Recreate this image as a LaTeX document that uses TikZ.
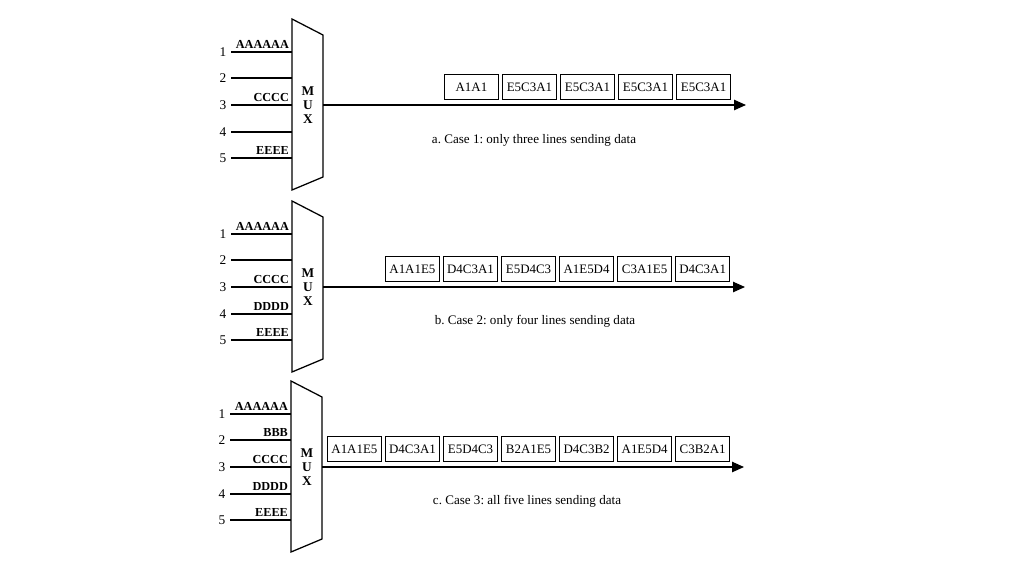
\documentclass[tikz,border=0pt]{standalone}
\usepackage{fontspec}
\setmainfont{Liberation Serif}
\usetikzlibrary{positioning,arrows.meta}

\begin{document}
\frenchspacing
\begin{tikzpicture}[x=0.25mm,y=-0.25mm,
	muxbody/.style={draw,line width=0.9pt,line join=miter},
	muxtext/.style={align=center,font=\fontsize{9.5}{9.8}\selectfont\bfseries},
	linenum/.style={inner sep=3.2pt,font=\fontsize{9.5}{10}\selectfont},
	inline/.style={line width=0.9pt},
	datalab/.style={inner sep=0.6pt,font=\fontsize{8.7}{10}\selectfont\bfseries},
	outline/.style={line width=0.9pt,-{Triangle[length=3mm,width=2.6mm]}},
	frame/.style={draw,line width=0.6pt,minimum width=13.5mm,minimum height=6.3mm,inner sep=1pt,font=\fontsize{9.2}{10}\selectfont},
	caption/.style={font=\fontsize{9.3}{10}\selectfont}]
		\useasboundingbox (0,0) rectangle (1024,576);

		\coordinate (m1tl) at (292,19);
		\coordinate (m1tr) at (323,35);
		\coordinate (m1br) at (323,177);
		\coordinate (m1bl) at (292,190);
		\draw[muxbody] (m1tl) -- (m1tr) -- (m1br) -- (m1bl) -- cycle;
		\node[muxtext] (mux1) at (308,105) {M\\U\\X};

		\node[linenum] (n11) at (223,52)	{1};
		\node[linenum] (n12) at (223,78)	{2};
		\node[linenum] (n13) at (223,105)	{3};
		\node[linenum] (n14) at (223,132)	{4};
		\node[linenum] (n15) at (223,158)	{5};
		\coordinate (e11) at (292,52);
		\coordinate (e12) at (292,78);
		\coordinate (e13) at (292,105);
		\coordinate (e14) at (292,132);
		\coordinate (e15) at (292,158);
		\draw[inline] (n11) -- (e11);
		\draw[inline] (n12) -- (e12);
		\draw[inline] (n13) -- (e13);
		\draw[inline] (n14) -- (e14);
		\draw[inline] (n15) -- (e15);
		\node[datalab,above left=0.6mm and 0.5mm of e11] (d11) {AAAAAA};
		\node[datalab,above left=0.6mm and 0.5mm of e13] (d13) {CCCC};
		\node[datalab,above left=0.6mm and 0.5mm of e15] (d15) {EEEE};

		\coordinate (o1) at (323,105);
		\coordinate (t1) at (746,105);
		\draw[outline] (o1) -- (t1);
		\node[frame,anchor=south west] (f11) at (444,100) {A1A1};
		\node[frame,right=0.8mm of f11] (f12) {E5C3A1};
		\node[frame,right=0.8mm of f12] (f13) {E5C3A1};
		\node[frame,right=0.8mm of f13] (f14) {E5C3A1};
		\node[frame,right=0.8mm of f14] (f15) {E5C3A1};
		\node[caption] (c1) at (534,140) {a. Case 1: only three lines sending data};

		\coordinate (m2tl) at (292,201);
		\coordinate (m2tr) at (323,217);
		\coordinate (m2br) at (323,359);
		\coordinate (m2bl) at (292,372);
		\draw[muxbody] (m2tl) -- (m2tr) -- (m2br) -- (m2bl) -- cycle;
		\node[muxtext] (mux2) at (308,287) {M\\U\\X};

		\node[linenum] (n21) at (223,234)	{1};
		\node[linenum] (n22) at (223,260)	{2};
		\node[linenum] (n23) at (223,287)	{3};
		\node[linenum] (n24) at (223,314)	{4};
		\node[linenum] (n25) at (223,340)	{5};
		\coordinate (e21) at (292,234);
		\coordinate (e22) at (292,260);
		\coordinate (e23) at (292,287);
		\coordinate (e24) at (292,314);
		\coordinate (e25) at (292,340);
		\draw[inline] (n21) -- (e21);
		\draw[inline] (n22) -- (e22);
		\draw[inline] (n23) -- (e23);
		\draw[inline] (n24) -- (e24);
		\draw[inline] (n25) -- (e25);
		\node[datalab,above left=0.6mm and 0.5mm of e21] (d21) {AAAAAA};
		\node[datalab,above left=0.6mm and 0.5mm of e23] (d23) {CCCC};
		\node[datalab,above left=0.6mm and 0.5mm of e24] (d24) {DDDD};
		\node[datalab,above left=0.6mm and 0.5mm of e25] (d25) {EEEE};

		\coordinate (o2) at (323,287);
		\coordinate (t2) at (745,287);
		\draw[outline] (o2) -- (t2);
		\node[frame,anchor=south west] (f21) at (385,282) {A1A1E5};
		\node[frame,right=0.8mm of f21] (f22) {D4C3A1};
		\node[frame,right=0.8mm of f22] (f23) {E5D4C3};
		\node[frame,right=0.8mm of f23] (f24) {A1E5D4};
		\node[frame,right=0.8mm of f24] (f25) {C3A1E5};
		\node[frame,right=0.8mm of f25] (f26) {D4C3A1};
		\node[caption] (c2) at (535,321) {b. Case 2: only four lines sending data};

		\coordinate (m3tl) at (291,381);
		\coordinate (m3tr) at (322,397);
		\coordinate (m3br) at (322,539);
		\coordinate (m3bl) at (291,552);
		\draw[muxbody] (m3tl) -- (m3tr) -- (m3br) -- (m3bl) -- cycle;
		\node[muxtext] (mux3) at (307,467) {M\\U\\X};

		\node[linenum] (n31) at (222,414)	{1};
		\node[linenum] (n32) at (222,440)	{2};
		\node[linenum] (n33) at (222,467)	{3};
		\node[linenum] (n34) at (222,494)	{4};
		\node[linenum] (n35) at (222,520)	{5};
		\coordinate (e31) at (291,414);
		\coordinate (e32) at (291,440);
		\coordinate (e33) at (291,467);
		\coordinate (e34) at (291,494);
		\coordinate (e35) at (291,520);
		\draw[inline] (n31) -- (e31);
		\draw[inline] (n32) -- (e32);
		\draw[inline] (n33) -- (e33);
		\draw[inline] (n34) -- (e34);
		\draw[inline] (n35) -- (e35);
		\node[datalab,above left=0.6mm and 0.5mm of e31] (d31) {AAAAAA};
		\node[datalab,above left=0.6mm and 0.5mm of e32] (d32) {BBB};
		\node[datalab,above left=0.6mm and 0.5mm of e33] (d33) {CCCC};
		\node[datalab,above left=0.6mm and 0.5mm of e34] (d34) {DDDD};
		\node[datalab,above left=0.6mm and 0.5mm of e35] (d35) {EEEE};

		\coordinate (o3) at (322,467);
		\coordinate (t3) at (744,467);
		\draw[outline] (o3) -- (t3);
		\node[frame,anchor=south west] (f31) at (327,462) {A1A1E5};
		\node[frame,right=0.8mm of f31] (f32) {D4C3A1};
		\node[frame,right=0.8mm of f32] (f33) {E5D4C3};
		\node[frame,right=0.8mm of f33] (f34) {B2A1E5};
		\node[frame,right=0.8mm of f34] (f35) {D4C3B2};
		\node[frame,right=0.8mm of f35] (f36) {A1E5D4};
		\node[frame,right=0.8mm of f36] (f37) {C3B2A1};
		\node[caption] (c3) at (527,501) {c. Case 3: all five lines sending data};
	\end{tikzpicture}
\end{document}
